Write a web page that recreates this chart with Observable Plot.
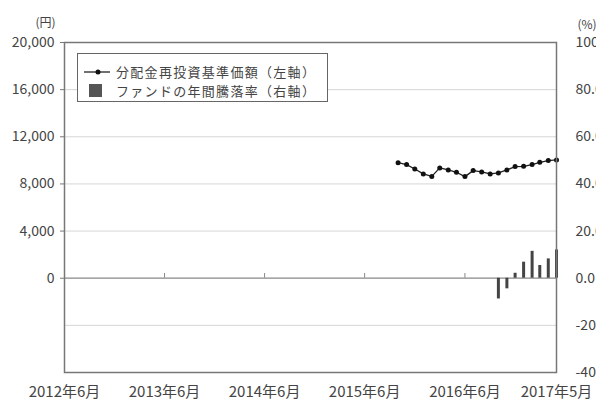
<!DOCTYPE html>
<html>
<head>
<meta charset="utf-8">
<script src="https://cdn.jsdelivr.net/npm/d3@7"></script>
<script src="https://cdn.jsdelivr.net/npm/@observablehq/plot@0.6"></script>
<style>
  html, body { margin: 0; padding: 0; background: #fff; }
  #wrap { position: relative; width: 596px; height: 403px; overflow: hidden; font-family: "Noto Sans CJK JP", "Noto Sans", sans-serif; color: #444; }
  #wrap svg { display: block; }
  .legend { position: absolute; left: 77px; top: 53px; width: 251px; height: 49px; border: 1.5px solid #666; background: #fff; box-sizing: border-box; }
  .legend .row { position: absolute; left: 0; height: 19px; width: 100%; }
  .legend .txt { position: absolute; left: 38px; top: 0; display: inline-block; height: 19px; line-height: 19px; font-size: 13px; letter-spacing: 1.3px; white-space: nowrap; }
  .legend .sq { position: absolute; left: 11px; top: 3px; width: 13px; height: 13px; background: #555; }
  .legend svg.mk { position: absolute; left: 5px; top: 4.5px; }
</style>
</head>
<body>
<div id="wrap"></div>
<script>
// ---- data ----
const navMonths = ["2015-10","2015-11","2015-12","2016-01","2016-02","2016-03","2016-04","2016-05","2016-06","2016-07",
                   "2016-08","2016-09","2016-10","2016-11","2016-12","2017-01","2017-02","2017-03","2017-04","2017-05"];
const navValues = [9800, 9640, 9270, 8850, 8640, 9360, 9190, 8990, 8620, 9130,
                   9020, 8850, 8930, 9190, 9470, 9490, 9640, 9830, 9980, 10040];
const returnMonths = ["2016-10","2016-11","2016-12","2017-01","2017-02","2017-03","2017-04","2017-05"];
const returnValues = [-8.8, -4.5, 2.1, 6.8, 11.4, 5.4, 8.2, 12.0];
const leftTicks = [0, 4000, 8000, 12000, 16000, 20000];
const rightTicks = [-40, -20, 0, 20, 40, 60, 80, 100];
const xTickMonths = ["2012-06","2013-06","2014-06","2015-06","2016-06","2017-05"];
const legendLabels = ["分配金再投資基準価額（左軸）", "ファンドの年間騰落率（右軸）"];

// ---- build ----
const parse = d3.utcParse("%Y-%m");
const k = 200; // % -> 円 axis mapping (100% ↔ 20,000)
const nav = navMonths.map((m, i) => ({date: parse(m), value: navValues[i]}));
const rets = returnMonths.map((m, i) => ({date: parse(m), value: returnValues[i]}));
const xTicks = xTickMonths.map(parse);
const gridVals = rightTicks.map(p => p * k).filter(v => v !== 0 && v !== -40 * k && v !== 100 * k);

const chart = Plot.plot({
  width: 596,
  height: 403,
  marginLeft: 64,
  marginRight: 40,
  marginTop: 42,
  marginBottom: 31,
  x: {type: "utc", domain: [xTicks[0], xTicks[xTicks.length - 1]]},
  y: {domain: [-40 * k, 100 * k]},
  style: {fontFamily: '"Noto Sans CJK JP", "Noto Sans", sans-serif', fontSize: "14px", color: "#444", background: "#fff"},
  marks: [
    Plot.ruleY(gridVals, {stroke: "#d6d6d6", strokeWidth: 1}),
    Plot.ruleY([0], {stroke: "#888", strokeWidth: 1.2}),
    Plot.ruleX(xTicks.slice(1, -1), {y1: 0, y2: 400, stroke: "#888"}),
    Plot.ruleX(rets, {x: "date", y1: 0, y2: d => d.value * k, stroke: "#444", strokeWidth: 3}),
    Plot.line(nav, {x: "date", y: "value", stroke: "#222", strokeWidth: 1.3}),
    Plot.dot(nav, {x: "date", y: "value", r: 2.5, fill: "#111", stroke: null}),
    Plot.frame({stroke: "#777", strokeWidth: 1.5}),
    Plot.axisY(leftTicks, {anchor: "left", tickSize: 4, tickPadding: 6, tickFormat: d3.format(","), label: null, stroke: "#777"}),
    Plot.axisY(rightTicks.map(p => p * k), {anchor: "right", tickSize: 0, tickPadding: 19, tickFormat: d => (d / k).toFixed(1), label: null}),
    Plot.axisX(xTicks, {anchor: "bottom", tickSize: 0, tickPadding: 14, fontSize: 15,
      tickFormat: d => `${d.getUTCFullYear()}年${d.getUTCMonth() + 1}月`, label: null}),
    Plot.text(["(円)"], {frameAnchor: "top-left", dx: -9, dy: -24, textAnchor: "end", fontSize: 12, fill: "#444"}),
    Plot.text(["(%)"], {frameAnchor: "top-right", dx: 21, dy: -22, textAnchor: "start", fontSize: 12, fill: "#444"})
  ]
});

const wrap = document.getElementById("wrap");
wrap.appendChild(chart);

// legend overlay inside plot area
const lg = document.createElement("div");
lg.className = "legend";
lg.innerHTML = `
  <div class="row" style="top:8px">
    <svg class="mk" width="28" height="10"><line x1="1" y1="5" x2="27" y2="5" stroke="#222" stroke-width="1.3"/><circle cx="15" cy="5" r="2.5" fill="#111"/></svg>
    <span class="txt">${legendLabels[0]}</span>
  </div>
  <div class="row" style="top:27px">
    <div class="sq"></div>
    <span class="txt">${legendLabels[1]}</span>
  </div>`;
wrap.appendChild(lg);
</script>
</body>
</html>
